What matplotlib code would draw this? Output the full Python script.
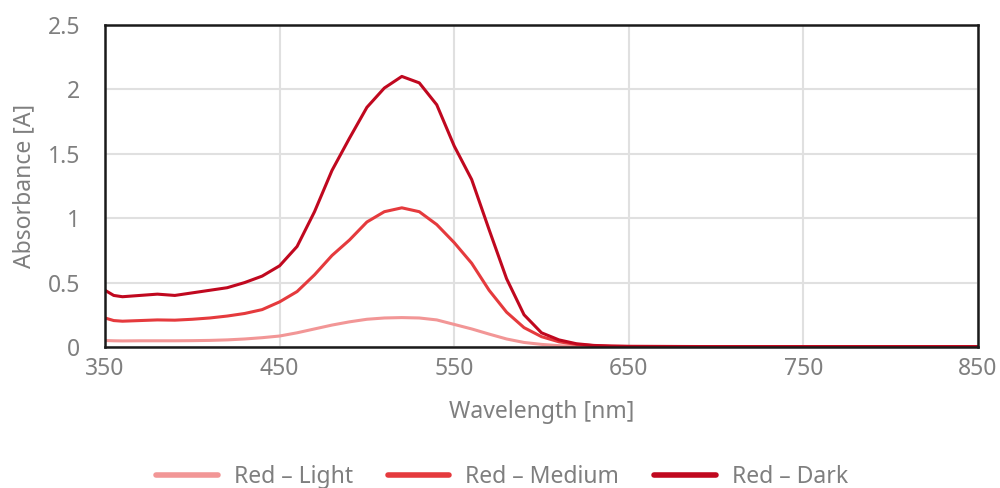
import numpy as np
import matplotlib
matplotlib.use("Agg")
import matplotlib.pyplot as plt

plt.rcParams.update({'font.family': ['Noto Sans', 'DejaVu Sans']})

# Datos
wavelength = [350, 355, 360, 370, 380, 390, 400, 410, 420, 430, 440, 450, 460, 470, 480, 490,
              500, 510, 520, 530, 540, 550, 560, 570, 580, 590, 600, 610, 620, 630, 640, 650,
              700, 750, 800, 850]

red_light = [0.05, 0.048, 0.047, 0.048, 0.048, 0.048, 0.049, 0.051, 0.055, 0.062, 0.072, 0.085,
             0.11, 0.14, 0.17, 0.195, 0.215, 0.225, 0.228, 0.225, 0.21, 0.175, 0.14, 0.10,
             0.062, 0.035, 0.02, 0.01, 0.005, 0.003, 0.002, 0.002, 0.002, 0.002, 0.002, 0.002]

red_medium = [0.225, 0.205, 0.20, 0.205, 0.21, 0.208, 0.215, 0.225, 0.24, 0.26, 0.29, 0.35,
              0.43, 0.56, 0.71, 0.83, 0.97, 1.05, 1.08, 1.05, 0.95, 0.81, 0.65, 0.44,
              0.27, 0.15, 0.08, 0.04, 0.02, 0.01, 0.006, 0.004, 0.003, 0.003, 0.003, 0.003]

red_dark = [0.44, 0.40, 0.39, 0.40, 0.41, 0.40, 0.42, 0.44, 0.46, 0.50, 0.55, 0.63,
            0.78, 1.05, 1.37, 1.62, 1.86, 2.01, 2.10, 2.05, 1.88, 1.56, 1.30, 0.91,
            0.53, 0.25, 0.11, 0.055, 0.025, 0.012, 0.007, 0.005, 0.003, 0.003, 0.003, 0.003]

series_labels = ['Red – Light', 'Red – Medium', 'Red – Dark']
x_ticks = [350, 450, 550, 650, 750, 850]
y_ticks = [0, 0.5, 1, 1.5, 2, 2.5]
y_tick_labels = ['0', '0.5', '1', '1.5', '2', '2.5']

# Colores
LIGHT = "#F29696"
MEDIUM = "#E53A3D"
DARK = "#C0081F"
TEXT = "#7F7F7F"
GRID = "#E0E0E0"
FS = 16.5

fig = plt.figure(figsize=(10, 4.88), dpi=100)
ax = fig.add_axes([0.105, 0.289, 0.873, 0.66])

for vals, col, lbl in zip([red_light, red_medium, red_dark], [LIGHT, MEDIUM, DARK], series_labels):
    ax.plot(wavelength, vals, color=col, lw=2.2, label=lbl, solid_capstyle='round')

ax.set_xlim(350, 850)
ax.set_ylim(0, 2.5)
ax.set_xticks(x_ticks)
ax.set_yticks(y_ticks)
ax.set_yticklabels(y_tick_labels)
ax.grid(color=GRID, lw=1.5)
ax.set_axisbelow(True)

for s in ax.spines.values():
    s.set_color('#1a1a1a')
    s.set_linewidth(1.8)

ax.tick_params(length=0, labelsize=FS, colors=TEXT)
ax.tick_params(axis='y', pad=18)
ax.tick_params(axis='x', pad=7)
ax.set_xlabel("Wavelength [nm]", fontsize=FS, color=TEXT, labelpad=14)
ax.set_ylabel("Absorbance [A]", fontsize=FS, color=TEXT, labelpad=8)

leg = fig.legend(loc='lower center', bbox_to_anchor=(0.502, -0.045), ncol=3, frameon=False,
                 fontsize=FS, handlelength=2.7, columnspacing=1.5, handletextpad=0.7)
for lh in leg.get_lines():
    lh.set_linewidth(4)
for t in leg.get_texts():
    t.set_color(TEXT)

fig.savefig("out.png", dpi=100)
